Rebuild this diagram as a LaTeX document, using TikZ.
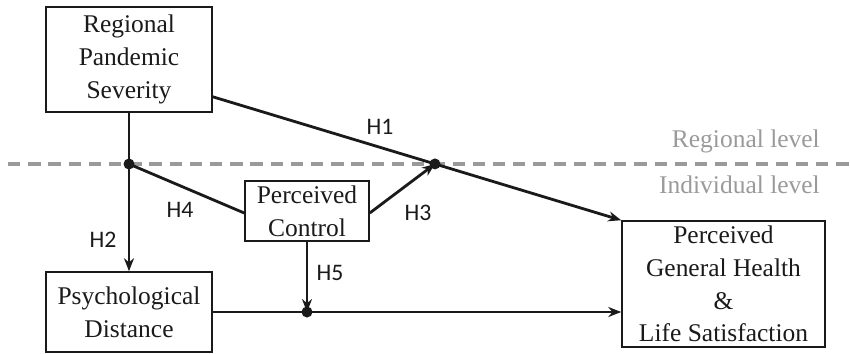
\documentclass[tikz,border=0pt]{standalone}
\usepackage{fontspec}
\setmainfont{Liberation Serif}
\newfontfamily\hfont{Carlito}
\usetikzlibrary{arrows.meta,positioning,calc}
\definecolor{ink}{HTML}{1A1A1A}
\definecolor{levelgray}{HTML}{9A9A9A}
\tikzset{var/.style={draw=ink,line width=0.9pt,align=center,font=\fontsize{14.5}{18.6}\selectfont,text=ink,inner sep=0pt},path/.style={-{Stealth[length=2.6mm,width=2mm]},line width=1.6pt,draw=ink},link/.style={line width=1.6pt,draw=ink},hyp/.style={font=\hfont\fontsize{13.5}{15}\selectfont,text=ink},lvl/.style={font=\fontsize{14.5}{17}\selectfont,text=levelgray,anchor=east},dot/.style={circle,fill=ink,inner sep=0pt,minimum size=2.2mm}}
\begin{document}
\begin{tikzpicture}[x=0.02cm,y=-0.02cm]
\useasboundingbox (0,0) rectangle (850,353);
% levels
\draw[levelgray,line width=1.8pt,dash pattern=on 7pt off 4.5pt] (8,164)--(850,164);
\node[lvl] (reg) at (826,141) {Regional level};
\node[lvl] (ind) at (826,185) {Individual level};
% variables
\node[var,minimum width=3.32cm,minimum height=2.1cm] (sev) at (129,59.5) {Regional\\Pandemic\\Severity};
\node[var,minimum width=3.32cm,minimum height=1.6cm] (dist) at (129,312) {Psychological\\Distance};
\node[var,minimum width=2.48cm,minimum height=1.2cm] (ctrl) at (307,211) {Perceived\\Control};
\node[var,minimum width=4.06cm,minimum height=2.52cm] (out) at (723.5,284) {Perceived\\General Health\\\&\\Life Satisfaction};
% junctions
\coordinate (sevout) at ($(sev.south east)+(0,-16)$);
\coordinate (j1) at (sev.south |- 0,164);
\coordinate (j2) at ($(sevout)!0.544!(out.north west)$);
\coordinate (j3) at (ctrl.south |- dist.east);
% paths
\draw[path] (sevout)--(out.north west);
\draw[link] (sev.south)--(j1);
\draw[path] (j1)--(dist.north);
\draw[link] (j1)--($(ctrl.west)+(0,2)$);
\draw[path] ($(ctrl.east)+(0,2)$)--(j2);
\draw[path] (dist.east)--(out.west |- dist.east);
\draw[path] (ctrl.south)--(j3);
\node[dot] (d1) at (j1) {};
\node[dot] (d2) at (j2) {};
\node[dot] (d3) at (j3) {};
% hypotheses
\node[hyp] (h1) at (380,127) {H1};
\node[hyp] (h2) at (103,240) {H2};
\node[hyp] (h3) at (418,213) {H3};
\node[hyp] (h4) at (180,210) {H4};
\node[hyp] (h5) at (330,273) {H5};
\end{tikzpicture}
\end{document}
